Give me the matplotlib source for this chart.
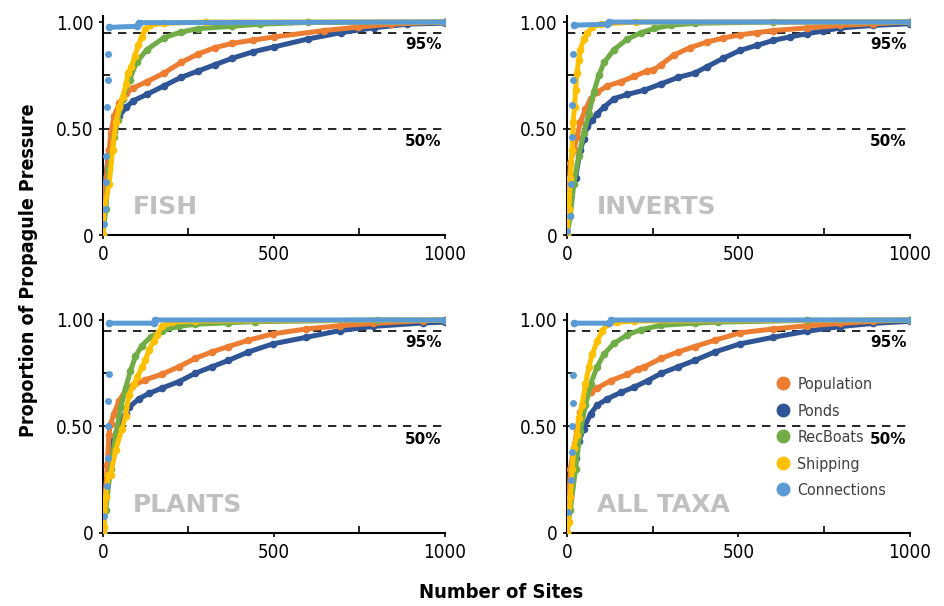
import matplotlib
matplotlib.use("Agg")
import matplotlib.pyplot as plt
from matplotlib import font_manager
from matplotlib.lines import Line2D

# condensed face if there is one (DejaVu Sans Condensed), else normal DejaVu
has_cond = any('Condensed' in f.fname and 'DejaVuSans' in f.fname
               for f in font_manager.fontManager.ttflist)
plt.rcParams['font.family'] = ['DejaVu Sans']
plt.rcParams['font.stretch'] = 'condensed'
shrink = 1.0 if has_cond else 0.88

# ---- FISH ----
fish_pond_x = [0, 4, 8, 18, 33, 48, 68, 88, 128, 178, 228, 278, 328, 378, 438, 500, 598, 696, 793, 890, 1000]
fish_pond_y = [0, 0.15, 0.27, 0.40, 0.49, 0.56, 0.60, 0.63, 0.66, 0.70, 0.74, 0.77, 0.80, 0.83, 0.86, 0.883, 0.92, 0.95, 0.973, 0.99, 0.995]
fish_pop_x = [0, 4, 8, 18, 23, 33, 48, 68, 88, 128, 178, 228, 278, 328, 378, 438, 500, 647, 745, 842, 1000]
fish_pop_y = [0, 0.15, 0.24, 0.40, 0.48, 0.56, 0.62, 0.667, 0.69, 0.72, 0.76, 0.81, 0.85, 0.88, 0.90, 0.915, 0.93, 0.96, 0.976, 0.99, 1.0]
fish_rec_x = [0, 8, 18, 33, 43, 58, 78, 98, 128, 178, 228, 278, 378, 458, 600, 1000]
fish_rec_y = [0, 0.12, 0.31, 0.46, 0.54, 0.64, 0.73, 0.81, 0.87, 0.926, 0.953, 0.969, 0.98, 0.99, 0.998, 1.0]
fish_ship_x = [0, 3, 18, 28, 38, 48, 58, 68, 73, 83, 93, 103, 113, 123, 138, 178, 300, 1000]
fish_ship_y = [0, 0.12, 0.24, 0.40, 0.53, 0.60, 0.65, 0.71, 0.76, 0.79, 0.84, 0.89, 0.93, 0.965, 0.985, 0.994, 1.0, 1.0]
fish_con_dot_x = [2, 5, 8, 10, 12, 14, 16]
fish_con_dot_y = [0.05, 0.12, 0.25, 0.37, 0.60, 0.73, 0.85]
fish_con_x = [18, 100, 104, 1000]
fish_con_y = [0.975, 0.98, 0.997, 1.0]

# ---- INVERTS ----
inv_pond_x = [0, 10, 25, 39, 49, 59, 74, 88, 108, 137, 176, 225, 275, 324, 372, 408, 456, 505, 553, 602, 650, 699, 748, 796, 893, 1000]
inv_pond_y = [0, 0.18, 0.27, 0.40, 0.45, 0.51, 0.54, 0.57, 0.60, 0.64, 0.66, 0.68, 0.71, 0.74, 0.76, 0.79, 0.83, 0.867, 0.89, 0.914, 0.93, 0.945, 0.958, 0.972, 0.984, 0.992]
inv_pop_x = [0, 5, 10, 20, 29, 39, 54, 69, 88, 118, 157, 196, 233, 252, 275, 311, 359, 408, 456, 505, 553, 602, 699, 796, 893, 1000]
inv_pop_y = [0, 0.2, 0.34, 0.40, 0.46, 0.53, 0.59, 0.64, 0.67, 0.70, 0.72, 0.745, 0.77, 0.775, 0.80, 0.844, 0.88, 0.906, 0.925, 0.94, 0.95, 0.96, 0.972, 0.984, 0.992, 1.0]
inv_rec_x = [0, 10, 20, 34, 49, 64, 78, 93, 108, 137, 176, 216, 255, 304, 372, 600, 1000]
inv_rec_y = [0, 0.09, 0.24, 0.37, 0.48, 0.57, 0.67, 0.75, 0.81, 0.87, 0.92, 0.95, 0.97, 0.985, 0.994, 1.0, 1.0]
inv_ship_x = [0, 5, 10, 15, 18, 22, 25, 29, 34, 39, 49, 59, 74, 98, 200, 1000]
inv_ship_y = [0, 0.12, 0.27, 0.40, 0.53, 0.60, 0.68, 0.76, 0.82, 0.87, 0.92, 0.95, 0.975, 0.99, 1.0, 1.0]
inv_con_dot_x = [1, 10, 12, 14, 16, 18, 19]
inv_con_dot_y = [0.02, 0.09, 0.24, 0.46, 0.61, 0.73, 0.85]
inv_con_x = [20, 118, 122, 1000]
inv_con_y = [0.985, 0.99, 1.0, 1.0]

# ---- PLANTS ----
pl_pond_x = [0, 8, 17, 27, 47, 66, 76, 105, 134, 172, 221, 270, 318, 366, 425, 497, 595, 692, 790, 936, 1000]
pl_pond_y = [0, 0.17, 0.33, 0.43, 0.51, 0.56, 0.59, 0.63, 0.655, 0.68, 0.71, 0.75, 0.78, 0.81, 0.85, 0.888, 0.919, 0.95, 0.97, 0.986, 0.99]
pl_pop_x = [0, 6, 13, 17, 22, 32, 47, 66, 86, 124, 172, 221, 270, 318, 366, 425, 497, 595, 692, 790, 936, 1000]
pl_pop_y = [0, 0.17, 0.32, 0.46, 0.51, 0.56, 0.62, 0.67, 0.69, 0.72, 0.745, 0.78, 0.82, 0.85, 0.875, 0.905, 0.935, 0.958, 0.973, 0.984, 0.997, 1.0]
pl_rec_x = [0, 8, 22, 37, 52, 66, 80, 95, 114, 139, 172, 221, 270, 366, 444, 800, 1000]
pl_rec_y = [0, 0.11, 0.30, 0.46, 0.59, 0.68, 0.76, 0.83, 0.88, 0.92, 0.95, 0.97, 0.98, 0.987, 0.992, 1.0, 1.0]
pl_ship_x = [0, 3, 8, 15, 22, 37, 56, 66, 76, 91, 100, 114, 124, 134, 148, 158, 172, 202, 270, 1000]
pl_ship_y = [0, 0.03, 0.17, 0.27, 0.27, 0.39, 0.49, 0.55, 0.65, 0.70, 0.73, 0.78, 0.81, 0.86, 0.90, 0.93, 0.97, 0.99, 0.995, 1.0]
pl_con_dot_x = [3, 12, 14, 15, 16, 17]
pl_con_dot_y = [0.08, 0.22, 0.35, 0.50, 0.62, 0.745]
pl_con_x = [18, 148, 152, 1000]
pl_con_y = [0.985, 0.985, 1.0, 1.0]

# ---- ALL TAXA ----
all_pond_x = [0, 10, 25, 34, 49, 69, 88, 118, 157, 196, 235, 275, 324, 372, 431, 505, 602, 699, 796, 893, 1000]
all_pond_y = [0, 0.20, 0.35, 0.43, 0.49, 0.56, 0.60, 0.63, 0.66, 0.685, 0.715, 0.75, 0.78, 0.81, 0.85, 0.888, 0.919, 0.947, 0.969, 0.984, 0.994]
all_pop_x = [0, 10, 20, 29, 39, 54, 69, 88, 127, 176, 206, 225, 275, 324, 372, 431, 505, 602, 699, 796, 893, 1000]
all_pop_y = [0, 0.30, 0.40, 0.48, 0.57, 0.63, 0.66, 0.68, 0.715, 0.745, 0.77, 0.78, 0.82, 0.85, 0.875, 0.905, 0.94, 0.958, 0.973, 0.984, 0.994, 1.0]
all_rec_x = [0, 10, 25, 39, 54, 69, 88, 108, 137, 176, 216, 275, 372, 441, 700, 1000]
all_rec_y = [0, 0.11, 0.30, 0.48, 0.60, 0.70, 0.78, 0.84, 0.89, 0.93, 0.955, 0.975, 0.985, 0.99, 0.998, 1.0]
all_ship_x = [0, 5, 10, 15, 20, 29, 34, 44, 54, 64, 74, 88, 103, 118, 147, 196, 1000]
all_ship_y = [0, 0.05, 0.17, 0.30, 0.40, 0.46, 0.54, 0.60, 0.70, 0.78, 0.84, 0.90, 0.95, 0.98, 0.99, 0.995, 1.0]
all_con_dot_x = [3, 12, 14, 16, 18, 19]
all_con_dot_y = [0.1, 0.25, 0.38, 0.50, 0.61, 0.74]
all_con_x = [20, 123, 127, 1000]
all_con_y = [0.985, 0.985, 1.0, 1.0]

series_names = ["Population", "Ponds", "RecBoats", "Shipping", "Connections"]
colors = {"Population": "#ED7D31", "Ponds": "#2F5597", "RecBoats": "#70AD47",
          "Shipping": "#FFC000", "Connections": "#5B9BD5"}
panel_titles = ["FISH", "INVERTS", "PLANTS", "ALL TAXA"]

panels = [
    {"Ponds": (fish_pond_x, fish_pond_y), "Population": (fish_pop_x, fish_pop_y),
     "RecBoats": (fish_rec_x, fish_rec_y), "Shipping": (fish_ship_x, fish_ship_y),
     "Connections": (fish_con_x, fish_con_y)},
    {"Ponds": (inv_pond_x, inv_pond_y), "Population": (inv_pop_x, inv_pop_y),
     "RecBoats": (inv_rec_x, inv_rec_y), "Shipping": (inv_ship_x, inv_ship_y),
     "Connections": (inv_con_x, inv_con_y)},
    {"Ponds": (pl_pond_x, pl_pond_y), "Population": (pl_pop_x, pl_pop_y),
     "RecBoats": (pl_rec_x, pl_rec_y), "Shipping": (pl_ship_x, pl_ship_y),
     "Connections": (pl_con_x, pl_con_y)},
    {"Ponds": (all_pond_x, all_pond_y), "Population": (all_pop_x, all_pop_y),
     "RecBoats": (all_rec_x, all_rec_y), "Shipping": (all_ship_x, all_ship_y),
     "Connections": (all_con_x, all_con_y)},
]
con_dots = [(fish_con_dot_x, fish_con_dot_y), (inv_con_dot_x, inv_con_dot_y),
            (pl_con_dot_x, pl_con_dot_y), (all_con_dot_x, all_con_dot_y)]

draw_order = ["Ponds", "Population", "RecBoats", "Shipping", "Connections"]

fig = plt.figure(figsize=(9.44, 6.06), dpi=100)
positions = [
    [0.1091, 0.6122, 0.3623, 0.362],
    [0.6006, 0.6122, 0.3633, 0.362],
    [0.1091, 0.1205, 0.3623, 0.362],
    [0.6006, 0.1205, 0.3633, 0.362],
]

for i, pos in enumerate(positions):
    ax = fig.add_axes(pos)
    data = panels[i]
    for name in draw_order:
        xs, ys = data[name]
        ax.plot(xs, ys, color=colors[name], lw=3.6, marker='o', ms=4.5,
                solid_capstyle='round', zorder=3)
    dx, dy = con_dots[i]
    ax.plot(dx, dy, ls='none', marker='o', ms=4, color=colors["Connections"],
            zorder=4)
    ax.axhline(0.95, color='black', lw=1.2, ls=(0, (5, 4)), zorder=2)
    ax.axhline(0.50, color='black', lw=1.2, ls=(0, (5, 4)), zorder=2)
    ax.text(990, 0.895, "95%", ha='right', va='center', fontsize=11,
            fontweight='bold', fontstretch='normal')
    ax.text(990, 0.44, "50%", ha='right', va='center', fontsize=11,
            fontweight='bold', fontstretch='normal')
    ax.text(88, 0.1, panel_titles[i], ha='left', va='baseline', fontsize=18,
            fontweight='bold', color='#C0C0C2', fontstretch='normal')

    ax.set_xlim(0, 1000)
    ax.set_ylim(0, 1.03)
    for s in ['top', 'right']:
        ax.spines[s].set_visible(False)
    for s in ['left', 'bottom']:
        ax.spines[s].set_linewidth(1.5)
    ax.set_xticks([0, 500, 1000])
    ax.set_xticklabels(["0", "500", "1000"])
    ax.set_xticks([250, 750], minor=True)
    ax.set_yticks([0, 0.5, 1.0])
    ax.set_yticklabels(["0", "0.50", "1.00"])
    ax.set_yticks([0.25, 0.75], minor=True)
    ax.tick_params(which='major', direction='out', length=3, width=1.2,
                   labelsize=13.5 * shrink, pad=4)
    ax.tick_params(which='minor', direction='in', length=5, width=1.2)

    if i == 3:
        handles = [Line2D([], [], ls='none', marker='o', ms=9, color=colors[n])
                   for n in series_names]
        ax.legend(handles, series_names, loc='upper left',
                  bbox_to_anchor=(0.611, 0.711), frameon=False,
                  fontsize=11.5 * shrink, labelspacing=0.72, handlelength=0.8,
                  handletextpad=0.5, borderpad=0, borderaxespad=0,
                  labelcolor='#404040')

fig.text(0.03, 0.5545, "Proportion of Propagule Pressure", rotation=90,
         ha='center', va='center', fontsize=14 * shrink, fontweight='bold')
fig.text(0.5305, 0.023, "Number of Sites", ha='center', va='center',
         fontsize=14.5 * shrink, fontweight='bold')

fig.savefig("out.png", dpi=100)
